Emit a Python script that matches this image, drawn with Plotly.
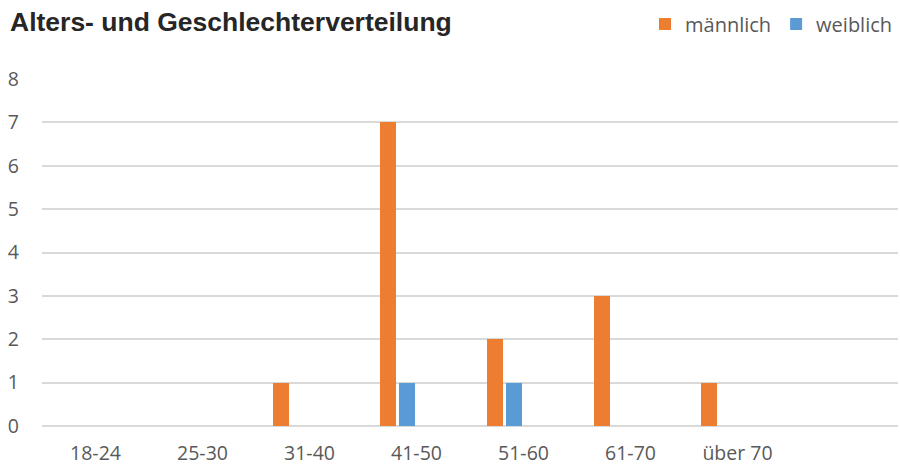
import plotly.graph_objects as go

# Age groups and head counts per gender
age_groups = ["18-24", "25-30", "31-40", "41-50", "51-60", "61-70", "über 70"]
male_counts = [0, 0, 1, 7, 2, 3, 1]
female_counts = [0, 0, 0, 1, 1, 0, 0]

series_names = ["männlich", "weiblich"]
series_colors = ["#ED7D31", "#5B9BD5"]

TEXT_GREY = "#595959"
GRID_GREY = "#D9D9D9"
TICK_FONT = dict(family="Open Sans", size=19.5, color=TEXT_GREY)

fig = go.Figure()

# Bars sit in the left half of each category slot
offsets = [-0.341, -0.164]
for name, values, color, off in zip(series_names, [male_counts, female_counts],
                                    series_colors, offsets):
    fig.add_trace(go.Bar(
        x=age_groups,
        y=values,
        name=name,
        marker=dict(color=color, line=dict(width=0)),
        offset=off,
        width=0.15,
    ))

fig.update_layout(
    width=900,
    height=466,
    barmode="overlay",
    paper_bgcolor="white",
    plot_bgcolor="white",
    margin=dict(l=42, r=2, t=79, b=40, autoexpand=False),
    title=dict(
        text="<b>Alters- und Geschlechterverteilung</b>",
        font=dict(family="Liberation Sans", size=26.5, color="#262626"),
        x=10 / 900,
        xanchor="left",
        xref="container",
        y=1 - 22 / 466,
        yanchor="middle",
        yref="container",
    ),
    legend=dict(
        orientation="h",
        x=1.0,
        xanchor="right",
        y=1 + (79 - 24) / 347,
        yanchor="middle",
        font=dict(family="Open Sans", size=20, color=TEXT_GREY),
        itemwidth=30,
        bgcolor="rgba(0,0,0,0)",
    ),
    xaxis=dict(
        type="category",
        categoryorder="array",
        categoryarray=age_groups,
        range=[-0.5, 7.5],
        showgrid=False,
        showline=False,
        zeroline=False,
        ticks="",
        tickfont=TICK_FONT,
        ticklabelstandoff=13,
        automargin=False,
    ),
    yaxis=dict(
        range=[0, 8],
        dtick=1,
        showgrid=True,
        gridcolor=GRID_GREY,
        gridwidth=1.5,
        zeroline=True,
        zerolinecolor=GRID_GREY,
        zerolinewidth=1.5,
        showline=False,
        ticks="",
        tickfont=TICK_FONT,
        ticklabelstandoff=22,
        automargin=False,
    ),
    bargap=0,
)

fig.write_html("out.html")
